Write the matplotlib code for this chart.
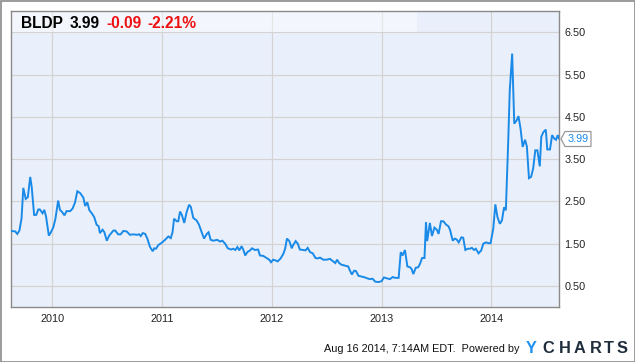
import matplotlib
matplotlib.use("Agg")
import matplotlib.pyplot as plt
import pandas as pd
from matplotlib.patches import Rectangle, Polygon

plt.rcParams['font.family'] = ['Liberation Sans', 'DejaVu Sans']

ticker = "BLDP"
last_price = "3.99"
change = "-0.09"
change_pct = "-2.21%"
timestamp = "Aug 16 2014, 7:14AM EDT.  Powered by"
brand_first = "Y"
brand_rest = "CHARTS"

dates = [
    "2009-08-16", "2009-08-30", "2009-09-06", "2009-09-13", "2009-09-20", "2009-09-26",
    "2009-10-04", "2009-10-11", "2009-10-19", "2009-10-24", "2009-11-01", "2009-11-08",
    "2009-11-15", "2009-11-20", "2009-11-29", "2009-12-05", "2009-12-11", "2009-12-20",
    "2009-12-27", "2010-01-04", "2010-01-11", "2010-01-20", "2010-01-26", "2010-02-02",
    "2010-02-10", "2010-02-17", "2010-03-01", "2010-03-09", "2010-03-17", "2010-03-25",
    "2010-04-03", "2010-04-14", "2010-04-20", "2010-04-27", "2010-05-04", "2010-05-13",
    "2010-05-20", "2010-05-28", "2010-06-04", "2010-06-08", "2010-06-17", "2010-06-23",
    "2010-07-01", "2010-07-09", "2010-07-23", "2010-07-29", "2010-08-08", "2010-08-16",
    "2010-08-25", "2010-09-05", "2010-09-16", "2010-09-27", "2010-10-09", "2010-10-17",
    "2010-10-22", "2010-10-29", "2010-11-06", "2010-11-13", "2010-11-22", "2010-12-01",
    "2010-12-06", "2010-12-12", "2010-12-20", "2010-12-29", "2011-01-11", "2011-01-22",
    "2011-01-30", "2011-02-05", "2011-02-10", "2011-02-19", "2011-02-24", "2011-03-02",
    "2011-03-08", "2011-03-16", "2011-03-24", "2011-04-01", "2011-04-07", "2011-04-15",
    "2011-04-26", "2011-05-04", "2011-05-13", "2011-05-21", "2011-05-30", "2011-06-05",
    "2011-06-12", "2011-06-21", "2011-07-04", "2011-07-13", "2011-07-21", "2011-07-30",
    "2011-08-08", "2011-08-19", "2011-08-26", "2011-09-02", "2011-09-09", "2011-09-15",
    "2011-09-23", "2011-09-29", "2011-10-05", "2011-10-12", "2011-10-21", "2011-10-28",
    "2011-11-06", "2011-11-17", "2011-11-23", "2011-12-04", "2011-12-15", "2011-12-24",
    "2011-12-30", "2012-01-06", "2012-01-15", "2012-01-21", "2012-01-31", "2012-02-09",
    "2012-02-15", "2012-02-21", "2012-02-29", "2012-03-08", "2012-03-13", "2012-03-21",
    "2012-03-28", "2012-04-04", "2012-04-15", "2012-04-23", "2012-04-30", "2012-05-08",
    "2012-05-17", "2012-05-26", "2012-06-02", "2012-06-10", "2012-06-21", "2012-07-02",
    "2012-07-13", "2012-07-24", "2012-07-31", "2012-08-06", "2012-08-13", "2012-08-21",
    "2012-09-01", "2012-09-12", "2012-09-18", "2012-09-24", "2012-10-02", "2012-10-08",
    "2012-10-16", "2012-10-27", "2012-11-07", "2012-11-14", "2012-11-23", "2012-12-02",
    "2012-12-11", "2012-12-21", "2013-01-01", "2013-01-09", "2013-01-18", "2013-01-29",
    "2013-02-07", "2013-02-15", "2013-02-27", "2013-03-06", "2013-03-12", "2013-03-20",
    "2013-03-28", "2013-04-06", "2013-04-11", "2013-04-17", "2013-04-25", "2013-05-03",
    "2013-05-09", "2013-05-16", "2013-05-24", "2013-05-29", "2013-06-02", "2013-06-11",
    "2013-06-18", "2013-06-26", "2013-07-04", "2013-07-10", "2013-07-18", "2013-07-26",
    "2013-08-04", "2013-08-12", "2013-08-17", "2013-08-26", "2013-09-02", "2013-09-08",
    "2013-09-15", "2013-09-24", "2013-09-30", "2013-10-07", "2013-10-15", "2013-10-22",
    "2013-10-29", "2013-11-05", "2013-11-11", "2013-11-20", "2013-11-29", "2013-12-06",
    "2013-12-15", "2013-12-24", "2013-12-30", "2014-01-08", "2014-01-15", "2014-01-22",
    "2014-01-30", "2014-02-06", "2014-02-13", "2014-02-19", "2014-02-27", "2014-03-04",
    "2014-03-12", "2014-03-19", "2014-03-27", "2014-04-02", "2014-04-09", "2014-04-16",
    "2014-04-24", "2014-04-30", "2014-05-07", "2014-05-14", "2014-05-21", "2014-05-28",
    "2014-06-04", "2014-06-12", "2014-06-17", "2014-06-24", "2014-07-02", "2014-07-07",
    "2014-07-16", "2014-07-23", "2014-07-30", "2014-08-05", "2014-08-11", "2014-08-15",
]

prices = [
    1.80, 1.79, 1.73, 1.81, 2.09, 2.82,
    2.56, 2.60, 3.08, 2.84, 2.18, 2.18,
    2.31, 2.31, 2.22, 2.30, 2.13, 1.69,
    1.77, 1.89, 2.09, 2.52, 2.30, 2.25,
    2.17, 2.27, 2.27, 2.33, 2.47, 2.74,
    2.70, 2.59, 2.39, 2.48, 2.29, 2.21,
    2.13, 1.95, 1.91, 1.75, 1.83, 1.77,
    1.57, 1.69, 1.81, 1.81, 1.72, 1.72,
    1.80, 1.79, 1.71, 1.72, 1.71, 1.72,
    1.68, 1.75, 1.73, 1.62, 1.42, 1.32,
    1.39, 1.38, 1.47, 1.51, 1.59, 1.67,
    1.63, 1.77, 2.09, 2.03, 2.03, 2.26,
    2.18, 1.99, 2.25, 2.42, 2.37, 2.11,
    2.05, 1.95, 1.77, 1.62, 1.73, 1.77,
    1.59, 1.57, 1.59, 1.55, 1.57, 1.50,
    1.39, 1.36, 1.38, 1.35, 1.42, 1.34,
    1.44, 1.35, 1.22, 1.30, 1.34, 1.39,
    1.35, 1.36, 1.22, 1.21, 1.16, 1.12,
    1.06, 1.12, 1.10, 1.08, 1.15, 1.26,
    1.38, 1.62, 1.56, 1.39, 1.47, 1.56,
    1.50, 1.36, 1.35, 1.34, 1.40, 1.30,
    1.27, 1.16, 1.15, 1.17, 1.12, 1.12,
    1.14, 1.08, 1.04, 1.12, 1.04, 1.00,
    0.98, 0.96, 0.86, 0.77, 0.86, 0.85,
    0.74, 0.72, 0.70, 0.68, 0.66, 0.67,
    0.60, 0.59, 0.61, 0.70, 0.68, 0.66,
    0.71, 0.69, 0.69, 1.30, 1.22, 1.35,
    0.96, 0.94, 0.90, 0.78, 0.93, 0.94,
    1.02, 1.16, 1.16, 2.01, 1.56, 1.99,
    1.68, 1.88, 1.83, 1.73, 2.03, 2.03,
    1.95, 1.91, 1.83, 1.57, 1.62, 1.60,
    1.53, 1.65, 1.64, 1.35, 1.38, 1.38,
    1.40, 1.35, 1.38, 1.27, 1.34, 1.50,
    1.53, 1.51, 1.51, 1.85, 2.43, 2.13,
    1.97, 2.05, 2.36, 2.29, 3.95, 5.13,
    6.00, 4.34, 4.42, 4.52, 4.22, 3.79,
    3.96, 3.80, 3.05, 3.08, 3.28, 3.71,
    3.71, 3.33, 4.03, 4.14, 4.20, 3.73,
    3.73, 4.07, 3.99, 3.96, 4.07, 3.99,
]

y_ticks = [0.50, 1.50, 2.50, 3.50, 4.50, 5.50, 6.50]
x_ticks = ["2010-01-01", "2011-01-01", "2012-01-01", "2013-01-01", "2014-01-01"]
x_tick_labels = ["2010", "2011", "2012", "2013", "2014"]
x_range = ["2009-08-16", "2014-08-15"]
y_range = [0.0, 7.02]

line_color = "#1a8ae8"
plot_bg = "#eaf0fb"
grid_color = "#d3d3d3"
spine_color = "#8a8a8a"

W, H = 635, 362
fig = plt.figure(figsize=(W / 100, H / 100), dpi=100)
fig.patch.set_facecolor("white")

ax = fig.add_axes([11 / W, 1 - 307 / H, (559 - 11) / W, (307 - 10.5) / H])
ax.set_facecolor(plot_bg)

d = pd.to_datetime(dates)
ax.plot(d, prices, color=line_color, lw=1.4, solid_joinstyle="miter", zorder=3)

ax.set_xlim(pd.to_datetime(x_range[0]), pd.to_datetime(x_range[1]))
ax.set_ylim(*y_range)
ax.set_yticks(y_ticks)
ax.set_yticklabels([f"{v:.2f}" for v in y_ticks])
ax.set_xticks(pd.to_datetime(x_ticks))
ax.set_xticklabels(x_tick_labels)
ax.yaxis.tick_right()
ax.tick_params(axis="both", length=0, labelsize=7.8, colors="#222222")
ax.tick_params(axis="y", pad=4)
ax.tick_params(axis="x", pad=5)
ax.grid(True, color=grid_color, lw=0.9, zorder=0)
ax.set_axisbelow(True)
for s in ax.spines.values():
    s.set_color(spine_color)
    s.set_linewidth(1.0)

# header box (semi-transparent white)
hdr_h = (32.3 - 10.5) / (307 - 10.5)
hdr = Rectangle((0, 1 - hdr_h), (417 - 11) / (559 - 11), hdr_h, transform=ax.transAxes,
                facecolor="white", alpha=0.45, edgecolor="none", zorder=1)
ax.add_patch(hdr)

hy = 1 - 23.5 / H
fig.text(21 / W, hy, ticker, fontsize=11.2, fontweight="bold", color="black", va="center")
fig.text(70 / W, hy, last_price, fontsize=11.2, fontweight="bold", color="black", va="center")
fig.text(106.5 / W, hy, change, fontsize=11.2, fontweight="bold", color="#ee1111", va="center")
fig.text(147.5 / W, hy, change_pct, fontsize=11.2, fontweight="bold", color="#ee1111", va="center")

# last price flag
fy = 1 - 139 / H
flag = Polygon([(561 / W, fy), (565 / W, 1 - 131.5 / H), (591 / W, 1 - 131.5 / H),
                (591 / W, 1 - 146.5 / H), (565 / W, 1 - 146.5 / H)], closed=True,
               transform=fig.transFigure, facecolor="white", edgecolor="#999999", lw=0.9)
fig.patches.append(flag)
fig.text(578 / W, fy, last_price, fontsize=7.8, color=line_color, ha="center", va="center")

# footer
fy2 = 1 - 349 / H
fig.text(520 / W, fy2, timestamp, fontsize=7.8, color="#111111", ha="right", va="center")
letters = brand_first + brand_rest
centers = [531.5, 548, 564.5, 580, 595.5, 608.5, 621.7]
for ch, cx in zip(letters, centers):
    fig.text(cx / W, 1 - 348.3 / H, ch, fontsize=11.8, fontweight="bold",
             color=("#1e90f0" if ch == brand_first else "#1f2d3d"), ha="center", va="center")

# outer frame
frame = Rectangle((0.5 / W, 0.5 / H), (W - 1) / W, (H - 1) / H, transform=fig.transFigure,
                  fill=False, edgecolor="#8a8a8a", lw=1.2)
fig.patches.append(frame)

fig.savefig("out.png", dpi=100, facecolor="white")
